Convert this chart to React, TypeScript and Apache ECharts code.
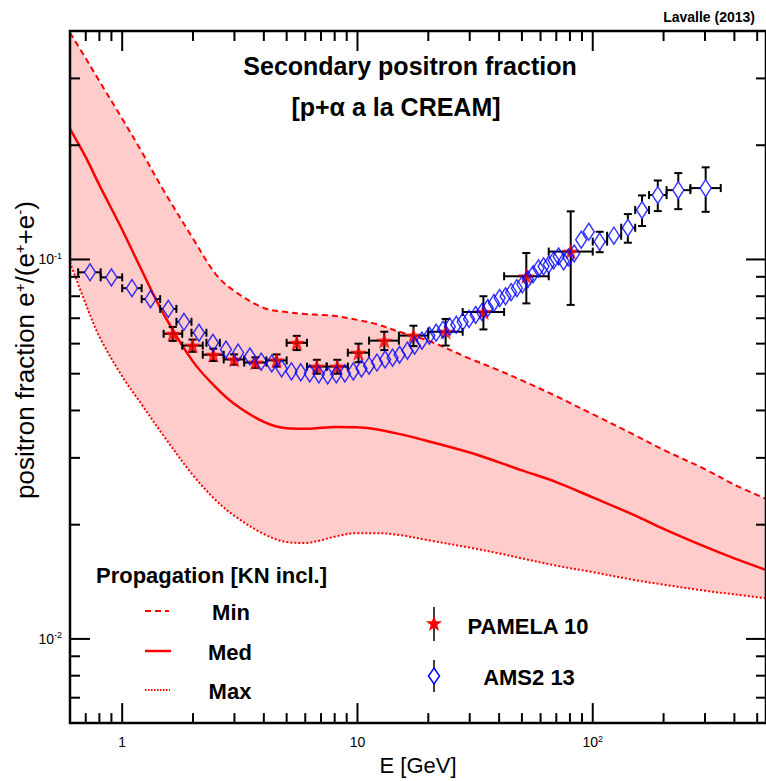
import React, { useEffect, useRef } from 'react';
import * as echarts from 'echarts';

const FONT = '"Liberation Sans", Arial, Helvetica, sans-serif';

// ---- axis ranges / ticks ----
const X_MIN = 0.6;
const X_MAX = 545;
const Y_MIN = 0.006;
const Y_MAX = 0.4;
const xMajorTicks = [1, 10, 100];
const xMinorTicks = [0.7, 0.8, 0.9, 2, 3, 4, 5, 6, 7, 8, 9, 20, 30, 40, 50, 60, 70, 80, 90, 200, 300, 400, 500];
const yMajorTicks = [0.01, 0.1];
const yMinorTicks = [0.007, 0.008, 0.009, 0.02, 0.03, 0.04, 0.05, 0.06, 0.07, 0.08, 0.09, 0.2, 0.3];

// ---- propagation model curves (secondary positron fraction) ----
const curveE = [0.6, 0.7, 0.8, 1, 1.2, 1.5, 2, 2.5, 3, 4, 5, 6, 7, 8, 10, 12, 15, 20, 30, 40, 50, 70, 100, 150, 200, 300, 400, 545];
const minFrac = [0.396, 0.339, 0.295, 0.235, 0.194, 0.152, 0.1135, 0.0914, 0.0825, 0.0745, 0.0727, 0.0718, 0.0714, 0.071, 0.0693, 0.0676, 0.0645, 0.0611, 0.0548, 0.051, 0.048, 0.0436, 0.0391, 0.0345, 0.0315, 0.028, 0.0255, 0.0234];
const medFrac = [0.221, 0.186, 0.157, 0.1198, 0.0947, 0.0718, 0.0538, 0.046, 0.0416, 0.0373, 0.0359, 0.0358, 0.036, 0.0362, 0.0361, 0.0357, 0.0347, 0.0332, 0.031, 0.0292, 0.0278, 0.0259, 0.0236, 0.0212, 0.0195, 0.0175, 0.0163, 0.0152];
const maxFrac = [0.0982, 0.0763, 0.0626, 0.0492, 0.0418, 0.0343, 0.027, 0.0232, 0.0211, 0.0189, 0.018, 0.0179, 0.0182, 0.0186, 0.019, 0.019, 0.0188, 0.0182, 0.0174, 0.0168, 0.0163, 0.0156, 0.015, 0.0143, 0.0139, 0.0134, 0.0131, 0.0128];

// ---- PAMELA 2010 ----
const pamEdges = [1.5, 1.8, 2.2, 2.7, 3.3, 4.1, 5.0, 6.1, 7.4, 9.1, 11.2, 15.0, 20.0, 28.0, 42.0, 65.0, 100];
const pamE = [1.64, 1.99, 2.44, 2.99, 3.68, 4.53, 5.52, 6.72, 8.21, 10.1, 13.0, 17.3, 23.7, 34.3, 52.2, 80.6];
const pamFrac = [0.0637, 0.0593, 0.0561, 0.0545, 0.0535, 0.0542, 0.0603, 0.0522, 0.0522, 0.0568, 0.0611, 0.063, 0.0645, 0.0727, 0.0903, 0.1049];
const pamErr = [0.0027, 0.0022, 0.0021, 0.0017, 0.0017, 0.002, 0.0026, 0.0022, 0.0022, 0.0032, 0.0034, 0.0039, 0.0052, 0.0073, 0.0137, 0.029];

// ---- AMS-02 2013 ----
const amsEdges = [0.65, 0.81, 1.0, 1.21, 1.45, 1.7, 1.97, 2.28, 2.6, 2.94, 3.3, 3.7, 4.11, 4.54, 5.0, 5.5, 6.0, 6.56, 7.16, 7.8, 8.48, 9.21, 10.0, 10.8, 11.7, 12.6, 13.6, 14.6, 15.7, 16.9, 18.2, 19.5, 20.9, 22.4, 23.9, 25.5, 27.2, 28.9, 30.8, 32.8, 34.8, 36.9, 39.1, 41.4, 43.8, 46.3, 48.9, 51.6, 54.4, 57.3, 60.3, 63.4, 66.6, 69.9, 73.4, 77.0, 80.7, 86.1, 92.6, 100, 115.1, 132.1, 151.5, 173.5, 206, 260, 350];
const amsE = [0.73, 0.9, 1.1, 1.32, 1.57, 1.83, 2.12, 2.43, 2.76, 3.11, 3.49, 3.9, 4.32, 4.76, 5.24, 5.74, 6.27, 6.85, 7.47, 8.13, 8.84, 9.6, 10.4, 11.2, 12.1, 13.1, 14.1, 15.1, 16.3, 17.5, 18.8, 20.2, 21.6, 23.1, 24.7, 26.3, 28.0, 29.8, 31.8, 33.8, 35.8, 38.0, 40.2, 42.6, 45.0, 47.6, 50.2, 53.0, 55.8, 58.8, 61.8, 65.0, 68.2, 71.6, 75.2, 78.8, 83.4, 89.3, 96.2, 107, 123, 141, 162, 189, 231, 302];
const amsFrac = [0.0925, 0.0897, 0.084, 0.0786, 0.0741, 0.0685, 0.0641, 0.0603, 0.0579, 0.0568, 0.0555, 0.0538, 0.0532, 0.0516, 0.0507, 0.0504, 0.0501, 0.0498, 0.0495, 0.0498, 0.0501, 0.0507, 0.0516, 0.0525, 0.0535, 0.0545, 0.0551, 0.0561, 0.0575, 0.0593, 0.0611, 0.063, 0.0641, 0.0653, 0.0665, 0.0673, 0.0685, 0.0697, 0.0714, 0.0727, 0.0745, 0.0768, 0.0791, 0.08, 0.082, 0.084, 0.086, 0.0887, 0.0914, 0.0947, 0.0959, 0.097, 0.0994, 0.1018, 0.0988, 0.1012, 0.1037, 0.1127, 0.1183, 0.1114, 0.1155, 0.1212, 0.135, 0.1478, 0.1523, 0.1542];
const amsErr = [0.001, 0.001, 0.001, 0.001, 0.001, 0.001, 0.001, 0.001, 0.001, 0.001, 0.0009, 0.0009, 0.0009, 0.0009, 0.0009, 0.0009, 0.0009, 0.0009, 0.0009, 0.0009, 0.0009, 0.0009, 0.0009, 0.0009, 0.0009, 0.0009, 0.0009, 0.0009, 0.0009, 0.0009, 0.0015, 0.0015, 0.0015, 0.0015, 0.0015, 0.0015, 0.0015, 0.0015, 0.0015, 0.0015, 0.0015, 0.0015, 0.0015, 0.0015, 0.0015, 0.0025, 0.0025, 0.0025, 0.0025, 0.0025, 0.005, 0.005, 0.005, 0.005, 0.005, 0.005, 0.005, 0.006, 0.006, 0.0069, 0.0055, 0.0105, 0.0125, 0.0137, 0.0166, 0.0207];

const STAR_PATH = 'path://M0,-10L2.35,-3.24L9.51,-3.09L3.8,1.24L5.88,8.09L0,4L-5.88,8.09L-3.8,1.24L-9.51,-3.09L-2.35,-3.24Z';

// error bars in ROOT style: segments hidden behind the marker, caps at the ends
function makeErrRender(hw: number, hh: number) {
  return (_params: any, api: any) => {
    const x = api.value(0), y = api.value(1);
    const c = api.coord([x, y]);
    const pl = api.coord([api.value(2), y]);
    const ph = api.coord([api.value(3), y]);
    const pyl = api.coord([x, api.value(4)]);
    const pyh = api.coord([x, api.value(5)]);
    const cap = 4;
    const style = { stroke: '#000', lineWidth: 2 };
    const children: any[] = [];
    if (pl[0] < c[0] - hw - 1) {
      children.push({ type: 'line', shape: { x1: pl[0], y1: c[1], x2: c[0] - hw, y2: c[1] }, style });
      children.push({ type: 'line', shape: { x1: pl[0], y1: c[1] - cap, x2: pl[0], y2: c[1] + cap }, style });
    }
    if (ph[0] > c[0] + hw + 1) {
      children.push({ type: 'line', shape: { x1: c[0] + hw, y1: c[1], x2: ph[0], y2: c[1] }, style });
      children.push({ type: 'line', shape: { x1: ph[0], y1: c[1] - cap, x2: ph[0], y2: c[1] + cap }, style });
    }
    if (pyh[1] < c[1] - hh - 1) {
      children.push({ type: 'line', shape: { x1: c[0], y1: pyh[1], x2: c[0], y2: c[1] - hh }, style });
      children.push({ type: 'line', shape: { x1: c[0] - cap, y1: pyh[1], x2: c[0] + cap, y2: pyh[1] }, style });
    }
    if (pyl[1] > c[1] + hh + 1) {
      children.push({ type: 'line', shape: { x1: c[0], y1: c[1] + hh, x2: c[0], y2: pyl[1] }, style });
      children.push({ type: 'line', shape: { x1: c[0] - cap, y1: pyl[1], x2: c[0] + cap, y2: pyl[1] }, style });
    }
    return { type: 'group', children };
  };
}

function xTickRender(_params: any, api: any) {
  const v = api.value(0);
  const len = api.value(2) ? 20 : 10;
  const b = api.coord([v, Y_MIN]);
  const t = api.coord([v, Y_MAX]);
  const style = { stroke: '#000', lineWidth: 2 };
  return {
    type: 'group',
    children: [
      { type: 'line', shape: { x1: b[0], y1: b[1], x2: b[0], y2: b[1] - len }, style },
      { type: 'line', shape: { x1: t[0], y1: t[1], x2: t[0], y2: t[1] + len }, style },
    ],
  };
}

function yTickRender(_params: any, api: any) {
  const v = api.value(1);
  const len = api.value(2) ? 20 : 10;
  const l = api.coord([X_MIN, v]);
  const r = api.coord([X_MAX, v]);
  const style = { stroke: '#000', lineWidth: 2 };
  return {
    type: 'group',
    children: [
      { type: 'line', shape: { x1: l[0], y1: l[1], x2: l[0] + len, y2: l[1] }, style },
      { type: 'line', shape: { x1: r[0], y1: r[1], x2: r[0] - len, y2: r[1] }, style },
    ],
  };
}

function isPow10(v: number) {
  const e = Math.round(Math.log10(v));
  return Math.abs(Math.log10(v) - e) < 1e-6 ? e : null;
}

function starPoints(cx: number, cy: number, R: number, r: number) {
  const pts: number[][] = [];
  for (let k = 0; k < 10; k++) {
    const a = -Math.PI / 2 + (k * Math.PI) / 5;
    const rad = k % 2 === 0 ? R : r;
    pts.push([cx + rad * Math.cos(a), cy + rad * Math.sin(a)]);
  }
  return pts;
}

const labelRich = {
  b: { fontSize: 14, fontFamily: FONT, color: '#000', lineHeight: 16 },
  s: { fontSize: 9, fontFamily: FONT, color: '#000', lineHeight: 9, verticalAlign: 'top' },
};

const txt = (text: string, x: number, y: number, size: number, bold: boolean, align = 'center') => ({
  type: 'text',
  x,
  y,
  z: 100,
  style: {
    text,
    font: `${bold ? 'bold ' : ''}${size}px ${FONT}`,
    fill: '#000',
    align,
    verticalAlign: 'middle',
    textAlign: align,
    textVerticalAlign: 'middle',
  },
});

export default function App() {
  const ref = useRef<HTMLDivElement>(null);

  useEffect(() => {
    const chart = echarts.init(ref.current!, null, { renderer: 'svg' });

    const option: any = {
      animation: false,
      backgroundColor: '#fff',
      grid: {
        left: 70,
        top: 31,
        width: 698,
        height: 696,
        show: true,
        borderColor: '#000',
        borderWidth: 2.5,
        backgroundColor: 'transparent',
        z: 10,
      },
      xAxis: {
        type: 'log',
        logBase: 10,
        min: X_MIN,
        max: X_MAX,
        axisLine: { show: false },
        axisTick: { show: false },
        minorTick: { show: false },
        splitLine: { show: false },
        axisLabel: {
          margin: 11,
          showMinLabel: false,
          showMaxLabel: false,
          formatter: (v: number) => {
            const e = isPow10(v);
            if (e === null) return '';
            if (e === 0) return '{b|1}';
            if (e === 1) return '{b|10}';
            return `{b|10}{s|${e}}`;
          },
          rich: labelRich,
        },
        name: 'E [GeV]',
        nameLocation: 'middle',
        nameGap: 30,
        nameTextStyle: { fontSize: 22, fontFamily: FONT, color: '#000' },
      },
      yAxis: {
        type: 'log',
        logBase: 10,
        min: Y_MIN,
        max: Y_MAX,
        axisLine: { show: false },
        axisTick: { show: false },
        minorTick: { show: false },
        splitLine: { show: false },
        axisLabel: {
          margin: 8,
          showMinLabel: false,
          showMaxLabel: false,
          formatter: (v: number) => {
            const e = isPow10(v);
            if (e === null) return '';
            return `{b|10}{s|${e}}`;
          },
          rich: labelRich,
        },
      },
      graphic: [
        txt('Lavalle (2013)', 755, 17, 14, true, 'right'),
        txt('Secondary positron fraction', 410, 66, 25, true),
        txt('[p+\u03b1 a la CREAM]', 396, 107, 25, true),
        {
          type: 'text',
          x: 25,
          y: 350,
          rotation: Math.PI / 2,
          z: 100,
          style: {
            text: 'positron fraction e{s|+}/(e{s|+}+e{s|-})',
            font: `26px ${FONT}`,
            fill: '#000',
            align: 'center',
            verticalAlign: 'middle',
            textAlign: 'center',
            textVerticalAlign: 'middle',
            rich: {
              s: { fontSize: 15, fontFamily: FONT, color: '#000', verticalAlign: 'top', lineHeight: 14 },
            },
          },
        },
        // legend: propagation
        txt('Propagation [KN incl.]', 96, 575, 22, true, 'left'),
        { type: 'line', z: 100, shape: { x1: 145, y1: 611, x2: 169, y2: 611 }, style: { stroke: '#ff0000', lineWidth: 2, lineDash: [6, 4] } },
        txt('Min', 231, 612, 22, true),
        { type: 'line', z: 100, shape: { x1: 145, y1: 651, x2: 171, y2: 651 }, style: { stroke: '#ff0000', lineWidth: 2.5 } },
        txt('Med', 230, 652, 22, true),
        { type: 'line', z: 100, shape: { x1: 145, y1: 690, x2: 170, y2: 690 }, style: { stroke: '#ff0000', lineWidth: 2, lineDash: [1.5, 1.5] } },
        txt('Max', 230, 691, 22, true),
        // legend: data
        { type: 'line', z: 100, shape: { x1: 434, y1: 607, x2: 434, y2: 641 }, style: { stroke: '#000', lineWidth: 1.5 } },
        { type: 'polygon', z: 101, shape: { points: starPoints(434, 624, 8.5, 3.5) }, style: { fill: '#ff0000' } },
        txt('PAMELA 10', 528, 626, 22, true),
        { type: 'line', z: 100, shape: { x1: 434, y1: 660, x2: 434, y2: 668 }, style: { stroke: '#000', lineWidth: 1.5 } },
        { type: 'line', z: 100, shape: { x1: 434, y1: 684, x2: 434, y2: 692 }, style: { stroke: '#000', lineWidth: 1.5 } },
        { type: 'polygon', z: 101, shape: { points: [[434, 668], [439.5, 676], [434, 684], [428.5, 676]] }, style: { fill: '#fff', stroke: '#0000ff', lineWidth: 1.5 } },
        txt('AMS2 13', 529, 677, 22, true),
      ],
      series: [
        {
          name: 'Min',
          type: 'line',
          data: curveE.map((e, i) => [e, minFrac[i]]),
          showSymbol: false,
          smooth: 0.35,
          lineStyle: { color: '#ff0000', width: 2, type: [6, 4] },
          areaStyle: { color: '#ffcccc', opacity: 1, origin: 'start' },
          z: 2,
        },
        {
          name: 'Max',
          type: 'line',
          data: curveE.map((e, i) => [e, maxFrac[i]]),
          showSymbol: false,
          smooth: 0.35,
          lineStyle: { color: '#ff0000', width: 2, type: [2, 2] },
          areaStyle: { color: '#ffffff', opacity: 1, origin: 'start' },
          z: 2,
        },
        {
          name: 'Med',
          type: 'line',
          data: curveE.map((e, i) => [e, medFrac[i]]),
          showSymbol: false,
          smooth: 0.35,
          lineStyle: { color: '#ff0000', width: 2.5 },
          z: 3,
        },
        {
          name: 'xticks',
          type: 'custom',
          silent: true,
          z: 4,
          data: [...xMajorTicks.map((v) => [v, Y_MIN, 1]), ...xMinorTicks.map((v) => [v, Y_MIN, 0])],
          renderItem: xTickRender,
        },
        {
          name: 'yticks',
          type: 'custom',
          silent: true,
          z: 4,
          data: [...yMajorTicks.map((v) => [X_MIN, v, 1]), ...yMinorTicks.map((v) => [X_MIN, v, 0])],
          renderItem: yTickRender,
        },
        {
          name: 'PAMELA err',
          type: 'custom',
          silent: true,
          z: 5,
          encode: { x: [0, 2, 3], y: [1, 4, 5] },
          data: pamE.map((e, i) => [e, pamFrac[i], pamEdges[i], pamEdges[i + 1], pamFrac[i] - pamErr[i], pamFrac[i] + pamErr[i]]),
          renderItem: makeErrRender(0, 0),
        },
        {
          name: 'PAMELA 10',
          type: 'scatter',
          z: 6,
          symbol: STAR_PATH,
          symbolSize: [17, 16],
          itemStyle: { color: '#ff0000' },
          data: pamE.map((e, i) => [e, pamFrac[i]]),
        },
        {
          name: 'AMS err',
          type: 'custom',
          silent: true,
          z: 7,
          encode: { x: [0, 2, 3], y: [1, 4, 5] },
          data: amsE.map((e, i) => [e, amsFrac[i], amsEdges[i], amsEdges[i + 1], amsFrac[i] - amsErr[i], amsFrac[i] + amsErr[i]]),
          renderItem: makeErrRender(5.5, 8.5),
        },
        {
          name: 'AMS2 13',
          type: 'scatter',
          z: 8,
          symbol: 'diamond',
          symbolSize: [11, 17],
          itemStyle: { color: 'rgba(0,0,0,0)', borderColor: '#0000ff', borderWidth: 1.5 },
          data: amsE.map((e, i) => [e, amsFrac[i]]),
        },
      ],
    };

    chart.setOption(option);
    return () => chart.dispose();
  }, []);

  return (
    <div
      ref={ref}
      style={{ position: 'fixed', left: 0, top: 0, width: 766, height: 781, background: '#fff' }}
    />
  );
}
